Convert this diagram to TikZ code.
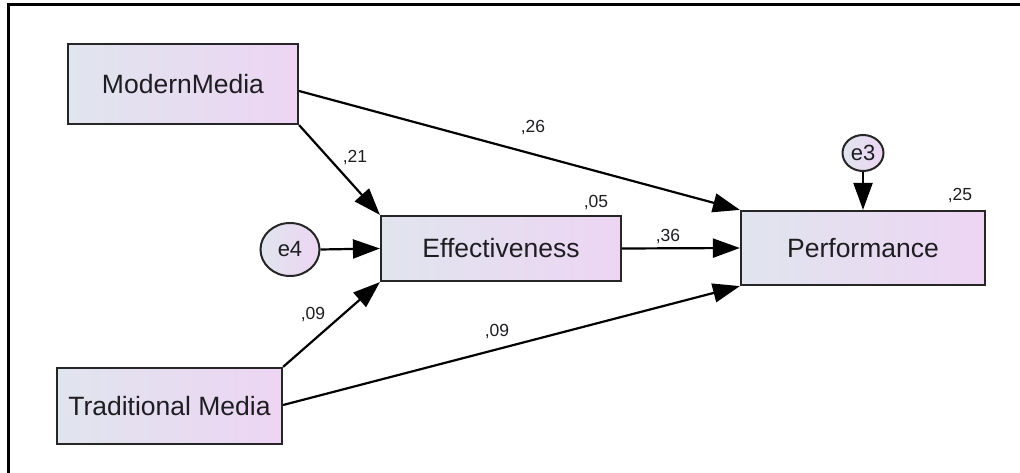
\documentclass[tikz,border=0pt]{standalone}
\usepackage{fontspec}
\setmainfont{Liberation Sans}
\usetikzlibrary{arrows.meta,shapes.geometric}
\definecolor{boxleft}{RGB}{224,229,238}
\definecolor{boxright}{RGB}{237,213,243}
\definecolor{txt}{RGB}{30,30,34}
\begin{document}
\begin{tikzpicture}[x=1pt,y=-1pt,
  var/.style={draw=black!85,line width=2.2pt,rectangle,left color=boxleft,right color=boxright,
    text=txt,font=\fontsize{26.5}{30}\selectfont,inner sep=0pt},
  err/.style={draw=black!85,line width=2pt,ellipse,left color=boxleft,right color=boxright,
    text=txt,font=\fontsize{22}{24}\selectfont,inner sep=0pt},
  path/.style={draw=black,line width=2.2pt,-{Triangle[length=27pt,width=19pt]}},
  coef/.style={text=txt,font=\fontsize{17.5}{19}\selectfont,inner sep=0pt}]
\useasboundingbox (0,0) rectangle (1020,473);
\fill[white] (0,0) rectangle (1020,473);
% frame
\draw[line width=3pt] (8.5,473) -- (8.5,5) -- (1020,5);
% nodes
\node[var,minimum width=230pt,minimum height=80pt] (MM) at (183,84) {ModernMedia};
\node[var,minimum width=240pt,minimum height=65pt] (Eff) at (501,248.5) {Effectiveness};
\node[var,minimum width=244pt,minimum height=74pt] (Perf) at (863,248) {Performance};
\node[var,minimum width=225pt,minimum height=76pt] (TM) at (169.5,406) {Traditional Media};
\node[err,minimum width=59pt,minimum height=53pt] (e4) at (290,249.5) {e4};
\node[err,minimum width=41pt,minimum height=36pt] (e3) at (863,153) {e3};
% connectors
\coordinate (MMout) at ([yshift=-7pt]MM.east);
\coordinate (TMout) at ([yshift=1pt]TM.east);
\draw[path] (MMout) -- (Perf.north west);
\draw[path] (MM.south east) -- (Eff.north west);
\draw[path] (e4.east) -- (Eff.west);
\draw[path] (Eff.east) -- (Perf.west);
\draw[path] (TM.north east) -- (Eff.south west);
\draw[path] (TMout) -- (Perf.south west);
\draw[path] (e3.south) -- (Perf.north);
% coefficients
\node[coef] (c26) at (533,128) {,26};
\node[coef] (c21) at (355,158) {,21};
\node[coef] (c05) at (596,203) {,05};
\node[coef] (c36) at (668,237) {,36};
\node[coef] (c25) at (960,196) {,25};
\node[coef] (c09a) at (313,315) {,09};
\node[coef] (c09b) at (497,332) {,09};
\end{tikzpicture}
\end{document}
